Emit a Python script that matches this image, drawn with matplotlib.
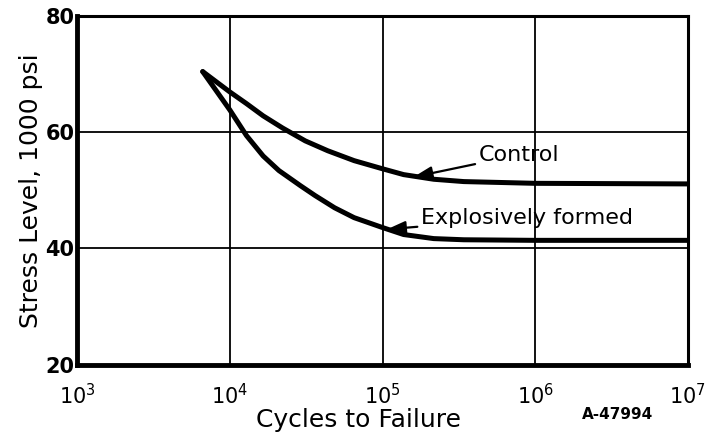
import matplotlib
matplotlib.use("Agg")
import matplotlib.pyplot as plt

# S-N curves, stress level (1000 psi) against cycles to failure
control_cycles = [6.64e3, 1.0e4, 1.285e4, 1.652e4, 2.218e4, 3.116e4, 4.376e4, 6.516e4,
                  1.0e5, 1.374e5, 2.166e5, 3.41e5, 1.0e6, 1.0e7]
control_stress = [70.4, 66.9, 64.9, 62.8, 60.7, 58.5, 56.8, 55.1,
                  53.7, 52.7, 51.9, 51.5, 51.2, 51.1]

expl_cycles = [6.64e3, 1.0e4, 1.285e4, 1.652e4, 2.094e4, 2.897e4, 3.614e4, 4.853e4,
               6.516e4, 1.0e5, 1.374e5, 2.166e5, 3.41e5, 1.0e6, 1.0e7]
expl_stress = [70.4, 63.8, 59.4, 55.9, 53.4, 50.8, 49.1, 47.0,
               45.3, 43.6, 42.4, 41.7, 41.5, 41.4, 41.4]

x_ticks = [1e3, 1e4, 1e5, 1e6, 1e7]
x_labels = ["$10^3$", "$10^4$", "$10^5$", "$10^6$", "$10^7$"]
y_ticks = [20, 40, 60, 80]

plt.rcParams['font.family'] = ['DejaVu Sans']

fig = plt.figure(figsize=(7.15, 4.38), dpi=100)
ax = fig.add_axes([0.108, 0.167, 0.854, 0.797])

ax.set_xscale("log")
ax.set_xlim(1e3, 1e7)
ax.set_ylim(20, 80)

ax.grid(True, which="major", color="black", linewidth=1.3)
ax.set_axisbelow(True)

for xs, ys in [(control_cycles, control_stress), (expl_cycles, expl_stress)]:
    ax.plot(xs, ys, color="black", linewidth=3.6,
            solid_capstyle="round", solid_joinstyle="round")

ax.set_xticks(x_ticks)
ax.set_xticklabels(x_labels, fontsize=15)
ax.minorticks_off()
ax.set_yticks(y_ticks)
ax.set_yticklabels([str(v) for v in y_ticks], fontsize=15, fontweight="bold")
ax.tick_params(length=0, pad=2)
ax.tick_params(axis="x", pad=13)

for side in ["left", "bottom"]:
    ax.spines[side].set_linewidth(3.5)
for side in ["top", "right"]:
    ax.spines[side].set_linewidth(2.2)

# curve labels with leader arrows
arrow = dict(arrowstyle="-|>,head_length=0.7,head_width=0.25", color="black",
             lw=1.6, shrinkA=1, shrinkB=0)
ax.annotate("Control", xy=(1.6e5, 52.3), xytext=(4.3e5, 56.1),
            fontsize=16, va="center", ha="left", arrowprops=arrow)
ax.annotate("Explosively formed", xy=(1.07e5, 43.3), xytext=(1.8e5, 45.3),
            fontsize=16, va="center", ha="left", arrowprops=arrow)

ax.set_ylabel("Stress Level, 1000 psi", fontsize=18, labelpad=2)
fig.text(0.502, 0.041, "Cycles to Failure", fontsize=18, ha="center", va="center")
fig.text(0.864, 0.053, "A-47994", fontsize=11, fontweight="bold", ha="center", va="center")

fig.savefig("out.png", dpi=100)
